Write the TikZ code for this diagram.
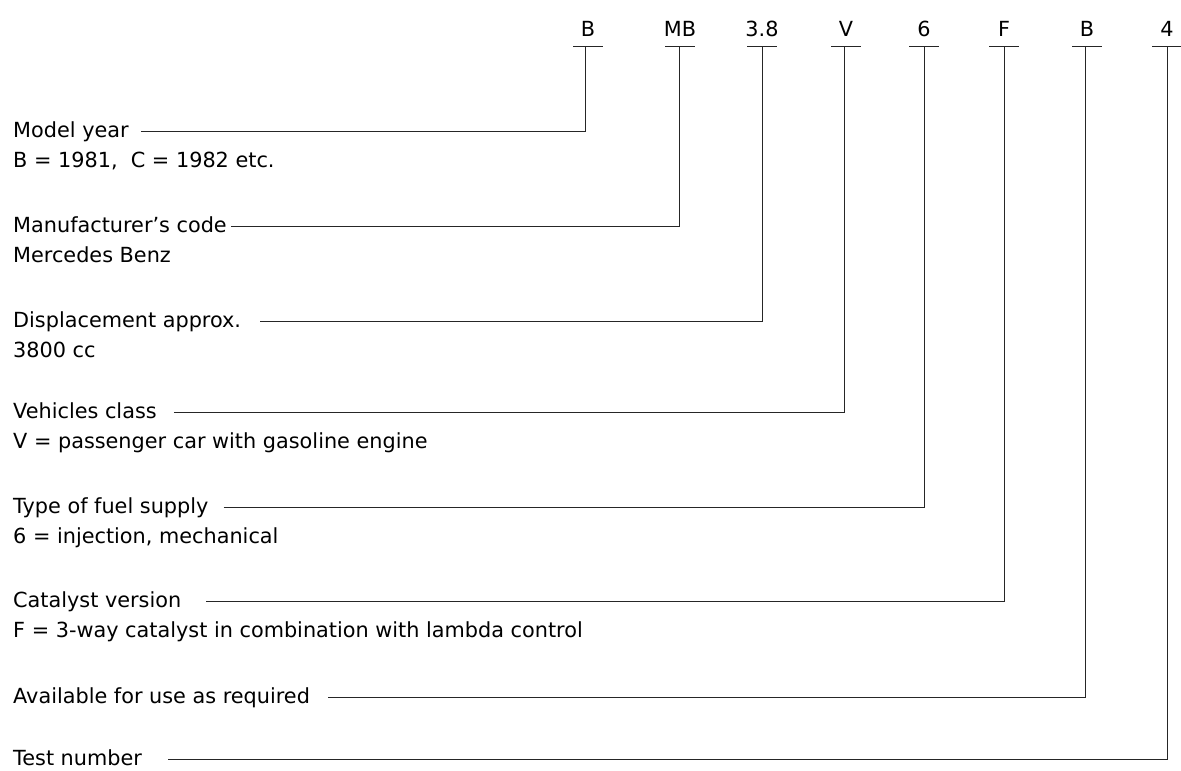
\documentclass[tikz,border=0pt]{standalone}
\usepackage{fontspec}
\setmainfont{DejaVu Sans}
\begin{document}
\begin{tikzpicture}[x=1pt,y=-1pt,
  txt/.style={anchor=base west,inner sep=0pt,font=\fontsize{20.8}{30}\selectfont},
  code/.style={anchor=base,inner sep=0pt,font=\fontsize{20.8}{30}\selectfont},
  conn/.style={draw=black!85,line width=0.9pt}]
\useasboundingbox (0,0) rectangle (1181,771);
% top code letters
\foreach \n/\x/\t in {1/588/B,2/680/MB,3/762/3.8,4/846/V,5/924/6,6/1004/F,7/1087/B,8/1167/4}{
  \node[code] (k\n) at (\x,36) {\t};
}
% stem tops and corners
\foreach \n/\x/\y in {1/585/131,2/679/226,3/762/321,4/844/412,5/924/507,6/1004/601,7/1085/697,8/1167/759}{
  \coordinate (t\n) at (\x,46);
  \coordinate (c\n) at (\x,\y);
}
% bars under code letters
\foreach \n in {1,...,8}{
  \draw[conn] ([xshift=-15pt]k\n.base |- t\n) -- ([xshift=15pt]k\n.base |- t\n);
}
% descriptions
\node[txt] (m1) at (13,137) {Model year};
\node[txt] (d1) at (13,167) {B = 1981,\ \ C = 1982 etc.};
\node[txt] (m2) at (13,232) {Manufacturer’s code};
\node[txt] (d2) at (13,262) {Mercedes Benz};
\node[txt] (m3) at (13,327) {Displacement approx.};
\node[txt] (d3) at (13,357) {3800 cc};
\node[txt] (m4) at (13,418) {Vehicles class};
\node[txt] (d4) at (13,448) {V = passenger car with gasoline engine};
\node[txt] (m5) at (13,513) {Type of fuel supply};
\node[txt] (d5) at (13,543) {6 = injection, mechanical};
\node[txt] (m6) at (13,607) {Catalyst version};
\node[txt] (d6) at (13,637) {F = 3-way catalyst in combination with lambda control};
\node[txt] (m7) at (13,703) {Available for use as required};
\node[txt] (m8) at (13,765) {Test number};
% connectors
\foreach \n/\g in {1/12,2/4,3/19,4/17,5/15,6/25,7/18,8/26}{
  \draw[conn] (m\n.base east) ++(\g,-6) -- (c\n) -- (t\n);
}
\end{tikzpicture}
\end{document}
